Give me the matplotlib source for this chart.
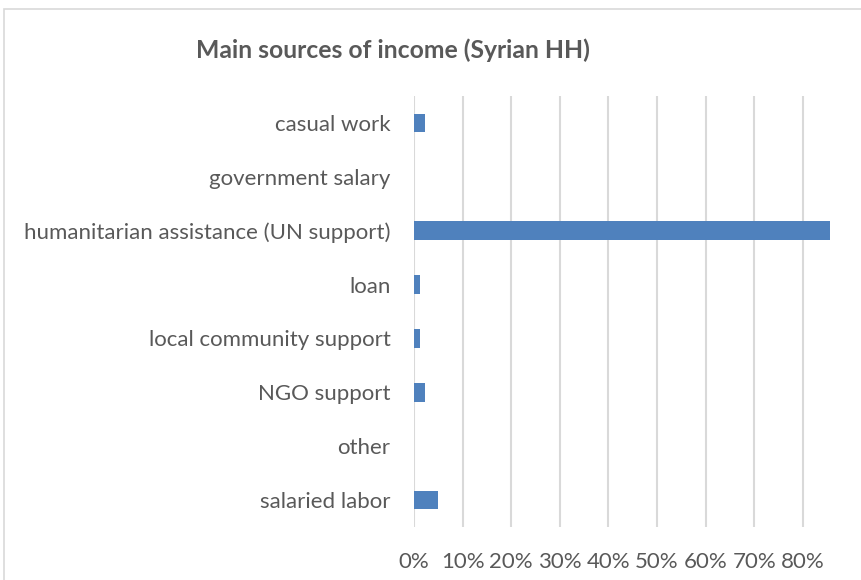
import numpy as np
import matplotlib.pyplot as plt
from matplotlib.patches import Rectangle
from matplotlib.ticker import PercentFormatter

categories = ['casual work', 'government salary', 'humanitarian assistance (UN support)',
              'loan', 'local community support', 'NGO support', 'other', 'salaried labor']
shares = [0.023, 0.0, 0.855, 0.012, 0.012, 0.023, 0.0, 0.049]
xticks = np.arange(0, 0.81, 0.1)

plt.rcParams['font.family'] = ['Lato', 'DejaVu Sans']
grey = '#595959'

fig = plt.figure(figsize=(8.62, 5.8), dpi=100)
ax = fig.add_axes([414/862, 1 - 527/580, 416/862, 431/580])

y = np.arange(len(categories))
ax.barh(y, shares, height=0.35, color='#4f81bd', linewidth=0, zorder=3)
ax.set_ylim(len(categories) - 0.5, -0.5)
ax.set_xlim(0, 0.856)

ax.set_yticks(y)
ax.set_yticklabels(categories, fontsize=16, color=grey)
ax.set_xticks(xticks)
ax.xaxis.set_major_formatter(PercentFormatter(1.0, decimals=0))
ax.tick_params(axis='x', length=0, pad=18, labelsize=16, labelcolor=grey)
ax.tick_params(axis='y', length=0, pad=17)
ax.grid(axis='x', color='#d9d9d9', linewidth=1.5, zorder=0)
for s in ax.spines.values():
    s.set_visible(False)

fig.text(393/862, 1 - 50/580, 'Main sources of income (Syrian HH)', ha='center', va='center',
         fontsize=17.8, fontweight='bold', color=grey)

# chart frame
fig.patches.append(Rectangle((4.5/862, -0.1), 1.2, 1 - 9.5/580 + 0.1, transform=fig.transFigure,
                             fill=False, edgecolor='#d9d9d9', linewidth=1.2))

fig.savefig('out.png', dpi=100)
